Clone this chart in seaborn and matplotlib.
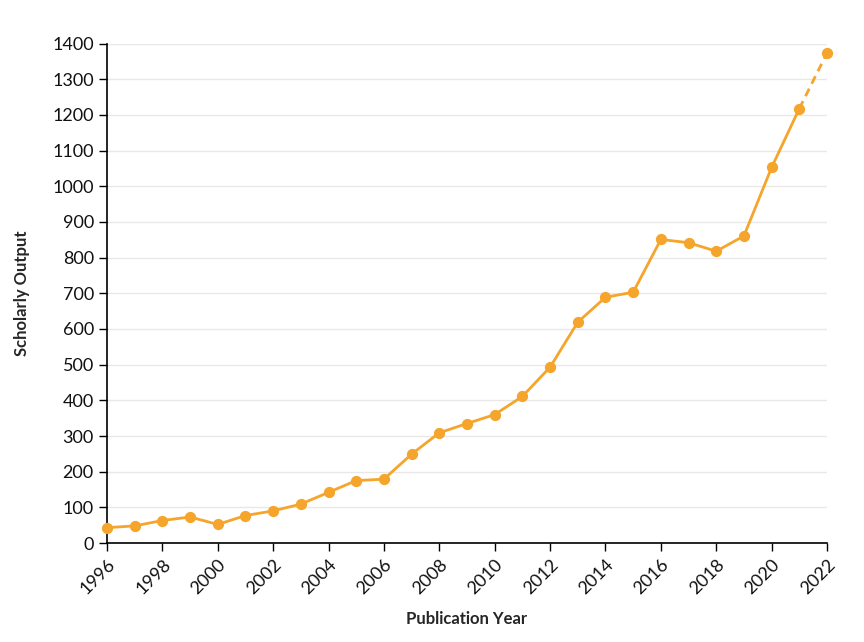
import matplotlib
matplotlib.use("Agg")
import matplotlib.pyplot as plt
import seaborn as sns
import pandas as pd

years = list(range(1996, 2023))
output = [43, 48, 63, 73, 52, 77, 90, 109, 142, 175, 179, 249, 309, 335, 360, 411,
          493, 619, 689, 703, 851, 842, 818, 861, 1053, 1218, 1374]
x_ticks = list(range(1996, 2023, 2))
y_ticks = list(range(0, 1401, 100))

color = "#f5a52b"

df = pd.DataFrame({"year": years, "output": output})
solid = df[df["year"] <= 2021]
dashed = df[df["year"] >= 2021]

sns.set_style("white")
plt.rcParams["font.family"] = ["Lato", "DejaVu Sans"]

fig = plt.figure(figsize=(8.64, 6.42), dpi=100)
ax = fig.add_axes([0.1238, 0.1542, 0.8334, 0.7778])

sns.lineplot(data=solid, x="year", y="output", color=color, linewidth=2, ax=ax)
sns.lineplot(data=dashed, x="year", y="output", color=color, linewidth=2,
             linestyle=(0, (3, 2)), ax=ax)
ax.scatter(df["year"], df["output"], s=50, color=color, zorder=3, clip_on=False)

ax.set_xlim(1996, 2022)
ax.set_ylim(0, 1400)
ax.set_xticks(x_ticks)
ax.set_yticks(y_ticks)
ax.set_xticklabels([str(t) for t in x_ticks], rotation=45, ha="right",
                   rotation_mode="anchor", fontsize=13)
ax.tick_params(axis="y", labelsize=13)
ax.tick_params(axis="both", direction="out", length=6, width=1, color="black",
               left=True, bottom=True, labelcolor="#111111")

ax.yaxis.grid(True, color="#e8e8e8", linewidth=1)
ax.xaxis.grid(False)
ax.set_axisbelow(True)

sns.despine(ax=ax)
for s in ["left", "bottom"]:
    ax.spines[s].set_color("black")
    ax.spines[s].set_linewidth(1.2)

ax.set_xlabel("Publication Year", fontsize=12, fontweight="bold", labelpad=10)
ax.set_ylabel("Scholarly Output", fontsize=12, fontweight="bold", labelpad=16)

fig.savefig("out.png", dpi=100)
